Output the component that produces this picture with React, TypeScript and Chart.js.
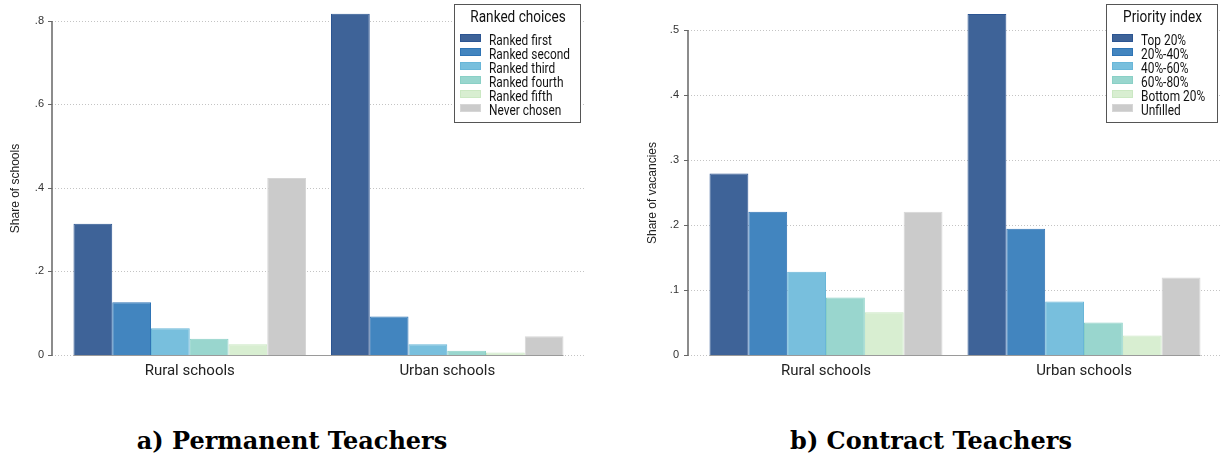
import React, { useEffect, useRef } from "react";
import { Chart, registerables } from "chart.js";

Chart.register(...registerables);

const categories = ["Rural schools", "Urban schools"];

const permLabels = ["Ranked first", "Ranked second", "Ranked third", "Ranked fourth", "Ranked fifth", "Never chosen"];
const permRural = [0.314, 0.126, 0.064, 0.039, 0.026, 0.424];
const permUrban = [0.817, 0.092, 0.026, 0.01, 0.006, 0.045];
const permTicks = [0, 0.2, 0.4, 0.6, 0.8];

const contLabels = ["Top 20%", "20%-40%", "40%-60%", "60%-80%", "Bottom 20%", "Unfilled"];
const contRural = [0.279, 0.22, 0.128, 0.0885, 0.0655, 0.22];
const contUrban = [0.524, 0.194, 0.082, 0.05, 0.03, 0.119];
const contTicks = [0, 0.1, 0.2, 0.3, 0.4, 0.5];

const fills = ["#3e6398", "#4285bf", "#78bfdd", "#99d6ce", "#d8eed1", "#cbcbcb"];
const borders = ["#2c5592", "#2f74b5", "#69b6d8", "#8ad0c6", "#cbe8c3", "#d6d6d6"];

const NARROW = 'Roboto, "Noto Sans", sans-serif';
const SANS = '"Liberation Sans", Arial, sans-serif';
const CAT_PCT = 0.903;
const SQUEEZE = 0.85;

function fmtTick(v: number) {
  if (Math.abs(v) < 1e-9) return "0";
  return v.toFixed(1).replace(/^0/, "");
}

function squeezedText(ctx: any, text: string, x: number, y: number, sx: number) {
  ctx.save();
  ctx.translate(x, y);
  ctx.scale(sx, 1);
  ctx.fillText(text, 0, 0);
  ctx.restore();
}

const decorPlugin = {
  id: "decor",
  beforeDatasetsDraw(chart: any, _args: any, opts: any) {
    const { ctx } = chart;
    const y = chart.scales.y;
    ctx.save();
    ctx.strokeStyle = "#c4c4c4";
    ctx.lineWidth = 1;
    ctx.setLineDash([1, 2]);
    for (const t of opts.ticks) {
      const py = Math.round(y.getPixelForValue(t)) + 0.5;
      ctx.beginPath();
      ctx.moveTo(opts.axisX, py);
      ctx.lineTo(opts.gridRight, py);
      ctx.stroke();
    }
    ctx.restore();
  },
  afterDatasetsDraw(chart: any, _args: any, opts: any) {
    const { ctx, chartArea } = chart;
    const y = chart.scales.y;
    const x = chart.scales.x;
    ctx.save();
    const y0 = Math.round(y.getPixelForValue(0)) + 0.5;
    const yTop = Math.round(y.getPixelForValue(opts.ticks[opts.ticks.length - 1])) + 0.5;
    // baseline under bars
    const catW = (chartArea.right - chartArea.left) / categories.length;
    const half = (catW * CAT_PCT) / 2;
    ctx.strokeStyle = "#9a9a9a";
    ctx.lineWidth = 1;
    ctx.beginPath();
    ctx.moveTo(x.getPixelForValue(0) - half, y0);
    ctx.lineTo(x.getPixelForValue(categories.length - 1) + half, y0);
    ctx.stroke();
    // y axis line
    ctx.strokeStyle = "#666";
    ctx.lineWidth = 1.5;
    ctx.beginPath();
    ctx.moveTo(opts.axisX, yTop - 0.5);
    ctx.lineTo(opts.axisX, y0 + 0.5);
    ctx.stroke();
    ctx.lineWidth = 1;
    for (const t of opts.ticks) {
      const py = Math.round(y.getPixelForValue(t)) + 0.5;
      ctx.beginPath();
      ctx.moveTo(opts.axisX - 4, py);
      ctx.lineTo(opts.axisX, py);
      ctx.stroke();
    }
    // y title
    ctx.save();
    ctx.translate(opts.titleX, (y0 + yTop) / 2);
    ctx.rotate(-Math.PI / 2);
    ctx.fillStyle = "#222";
    ctx.font = "12px " + SANS;
    ctx.textAlign = "center";
    ctx.textBaseline = "middle";
    ctx.fillText(opts.yTitle, 0, 0);
    ctx.restore();
    // legend
    const L = opts.legend;
    ctx.fillStyle = "#fff";
    ctx.fillRect(L.x, L.y, L.w, L.h);
    ctx.strokeStyle = "#555";
    ctx.lineWidth = 1;
    ctx.strokeRect(L.x + 0.5, L.y + 0.5, L.w, L.h);
    ctx.fillStyle = "#111";
    ctx.font = "16px " + NARROW;
    ctx.textAlign = "center";
    ctx.textBaseline = "middle";
    squeezedText(ctx, L.title, L.x + L.w / 2 + 1, L.y + 14, SQUEEZE);
    ctx.font = "14px " + NARROW;
    ctx.textAlign = "left";
    chart.data.datasets.forEach((ds: any, i: number) => {
      const cy = L.y + 37 + i * 14;
      ctx.fillStyle = ds.backgroundColor;
      ctx.fillRect(L.x + 6, cy - 7, 21, 8);
      ctx.strokeStyle = ds.borderColor;
      ctx.strokeRect(L.x + 6.5, cy - 6.5, 20, 7);
      ctx.fillStyle = "#111";
      squeezedText(ctx, ds.label, L.x + 35, cy + 0.5, SQUEEZE);
    });
    ctx.restore();
  },
};

type Cfg = {
  left: number;
  width: number;
  labels: string[];
  rural: number[];
  urban: number[];
  ticks: number[];
  yMax: number;
  yWidth: number;
  padRight: number;
  tickPad: number;
  axisX: number;
  gridRight: number;
  titleX: number;
  yTitle: string;
  legend: { x: number; y: number; w: number; h: number; title: string };
};

function BarPanel({ cfg }: { cfg: Cfg }) {
  const ref = useRef<HTMLCanvasElement | null>(null);
  useEffect(() => {
    if (!ref.current) return;
    const chart = new Chart(ref.current, {
      type: "bar",
      data: {
        labels: categories,
        datasets: cfg.labels.map((lab, i) => ({
          label: lab,
          data: [cfg.rural[i], cfg.urban[i]],
          backgroundColor: fills[i],
          borderColor: borders[i],
          borderWidth: 1,
          barPercentage: 1,
          categoryPercentage: CAT_PCT,
        })),
      },
      options: {
        animation: false,
        responsive: false,
        maintainAspectRatio: false,
        layout: { padding: { top: 10, right: cfg.padRight, left: 0, bottom: 0 } },
        plugins: {
          legend: { display: false },
          tooltip: { enabled: false },
          decor: {
            ticks: cfg.ticks,
            axisX: cfg.axisX,
            gridRight: cfg.gridRight,
            titleX: cfg.titleX,
            yTitle: cfg.yTitle,
            legend: cfg.legend,
          },
        } as any,
        scales: {
          x: {
            grid: { display: false, drawTicks: false },
            border: { display: false },
            ticks: { padding: 7, color: "#222", font: { family: NARROW, size: 15 } },
            afterFit: (s: any) => {
              s.height = 45;
              s.paddingLeft = 0;
              s.paddingRight = 0;
            },
          },
          y: {
            min: 0,
            max: cfg.yMax,
            grid: { display: false, drawTicks: false },
            border: { display: false },
            afterBuildTicks: (s: any) => {
              s.ticks = cfg.ticks.map((v) => ({ value: v }));
            },
            ticks: {
              padding: cfg.tickPad,
              color: "#333",
              font: { family: SANS, size: 11 },
              callback: (v: any) => fmtTick(Number(v)),
            },
            afterFit: (s: any) => {
              s.width = cfg.yWidth;
              s.paddingTop = 0;
              s.paddingBottom = 0;
            },
          },
        },
      },
      plugins: [decorPlugin as any],
    });
    return () => chart.destroy();
  }, [cfg]);
  return (
    <canvas
      ref={ref}
      width={cfg.width}
      height={400}
      style={{ position: "absolute", left: cfg.left, top: 0, width: cfg.width, height: 400 }}
    />
  );
}

const leftCfg: Cfg = {
  left: 0,
  width: 612,
  labels: permLabels,
  rural: permRural,
  urban: permUrban,
  ticks: permTicks,
  yMax: 0.826,
  yWidth: 61,
  padRight: 36,
  tickPad: 17,
  axisX: 52,
  gridRight: 585,
  titleX: 16,
  yTitle: "Share of schools",
  legend: { x: 454, y: 4, w: 126, h: 118, title: "Ranked choices" },
};

const rightCfg: Cfg = {
  left: 612,
  width: 613,
  labels: contLabels,
  rural: contRural,
  urban: contUrban,
  ticks: contTicks,
  yMax: 0.53,
  yWidth: 85,
  padRight: 12,
  tickPad: 18,
  axisX: 76,
  gridRight: 610,
  titleX: 41,
  yTitle: "Share of vacancies",
  legend: { x: 494, y: 4, w: 111, h: 118, title: "Priority index" },
};

const titleStyle: React.CSSProperties = {
  position: "absolute",
  top: 427,
  fontFamily: '"DejaVu Serif", "Liberation Serif", serif',
  fontWeight: "bold",
  fontSize: 24,
  lineHeight: "28px",
  textAlign: "center",
  color: "#000",
  whiteSpace: "nowrap",
};

export default function App() {
  return (
    <div style={{ position: "absolute", left: 0, top: 0, width: 1225, height: 460, background: "#fff", overflow: "hidden" }}>
      <BarPanel cfg={leftCfg} />
      <BarPanel cfg={rightCfg} />
      <div style={{ ...titleStyle, left: 0, width: 584 }}>a) Permanent Teachers</div>
      <div style={{ ...titleStyle, left: 631, width: 600 }}>b) Contract Teachers</div>
    </div>
  );
}
